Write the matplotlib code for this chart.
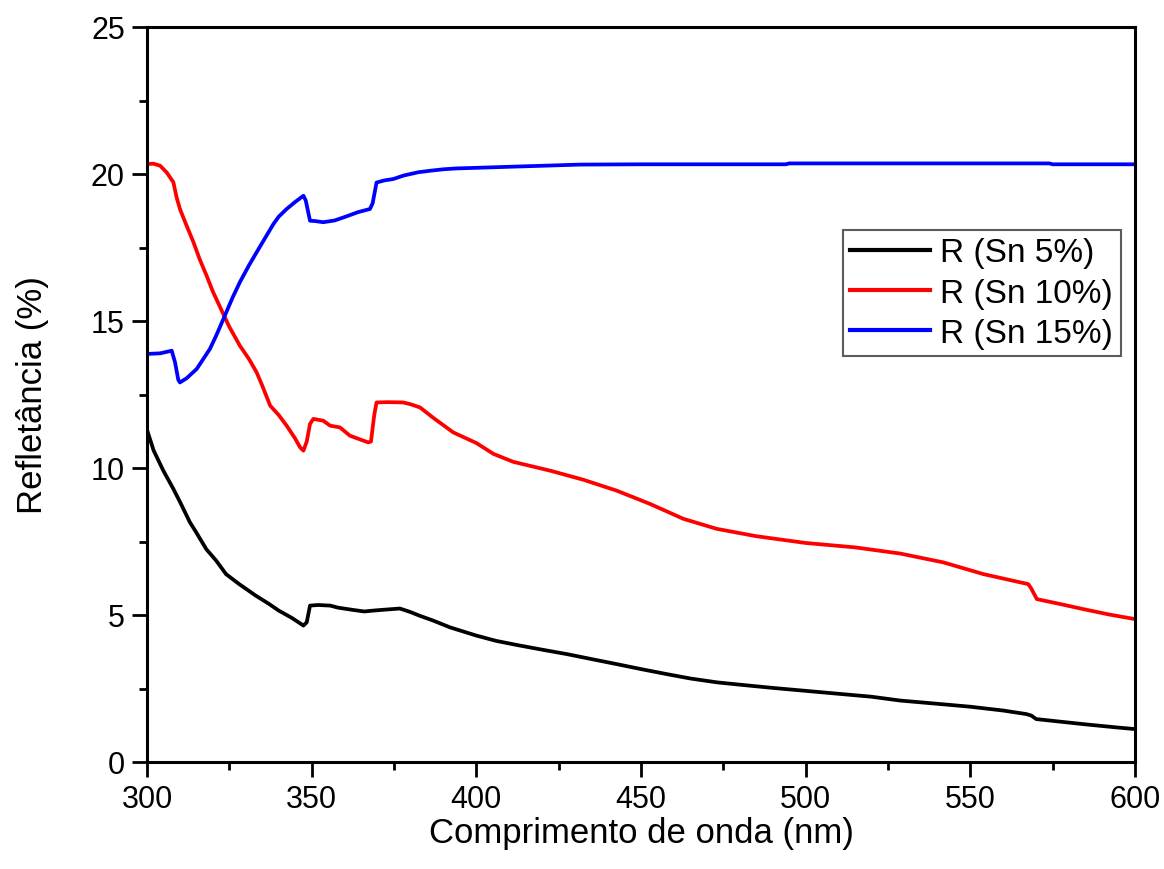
import matplotlib
matplotlib.use("Agg")
import matplotlib.pyplot as plt
from matplotlib.ticker import MultipleLocator

plt.rcParams['font.family'] = ['Liberation Sans', 'DejaVu Sans']

# Sn 5%
x_sn5 = [300, 302, 305, 308, 310, 313, 315, 318, 321, 324, 328, 333, 337, 340, 344, 347.5,
         348.5, 349.5, 352, 355.6, 358, 362.7, 366, 368.7, 372, 376.8, 380, 382.9, 386.9, 392,
         400, 406, 412.3, 420, 427.5, 435, 442.6, 450, 457.8, 465, 473, 480, 490, 500, 510,
         520, 528.7, 540, 550, 560, 567, 568.5, 570, 575, 585, 595, 600]
y_sn5 = [11.3, 10.6, 9.9, 9.29, 8.85, 8.16, 7.8, 7.24, 6.85, 6.39, 6.05, 5.66, 5.38, 5.15, 4.9, 4.64,
         4.75, 5.32, 5.34, 5.32, 5.25, 5.17, 5.12, 5.15, 5.18, 5.22, 5.1, 4.97, 4.81, 4.58,
         4.3, 4.12, 3.98, 3.82, 3.67, 3.5, 3.33, 3.16, 2.99, 2.84, 2.71, 2.63, 2.52, 2.42, 2.32,
         2.22, 2.09, 1.98, 1.88, 1.75, 1.63, 1.58, 1.46, 1.40, 1.28, 1.17, 1.12]

# Sn 10%
x_sn10 = [300, 302, 304, 306, 308, 309, 310, 312, 314.1, 316, 318.1, 320, 322.7, 325, 328.2, 331,
          333.3, 335, 337.4, 340, 342.4, 345, 346.5, 347.5, 348.5, 349.5, 350.5, 353.5, 355.6,
          358.6, 361.6, 364, 367.2, 368, 369, 369.7, 373, 377.8, 380, 382.9, 387, 393, 400,
          405.2, 411.2, 422.4, 432.5, 442.6, 452.7, 462.9, 473, 485, 500, 515, 528.7, 541.8,
          554, 567.6, 568.5, 570.2, 577, 584.3, 592, 600]
y_sn10 = [20.34, 20.35, 20.28, 20.05, 19.72, 19.2, 18.81, 18.25, 17.68, 17.1, 16.54, 16.0, 15.35,
          14.8, 14.16, 13.7, 13.25, 12.8, 12.12, 11.8, 11.44, 11.0, 10.7, 10.59, 10.9, 11.5, 11.67,
          11.61, 11.44, 11.38, 11.1, 11.0, 10.87, 10.9, 11.8, 12.23, 12.24, 12.23, 12.17, 12.06,
          11.7, 11.21, 10.85, 10.48, 10.21, 9.91, 9.6, 9.23, 8.78, 8.27, 7.93, 7.68, 7.45, 7.3,
          7.09, 6.79, 6.39, 6.05, 5.9, 5.54, 5.38, 5.2, 5.02, 4.86]

# Sn 15%
x_sn15 = [300, 304, 307.5, 308.5, 309.5, 310, 312, 315.1, 319.1, 321, 323.2, 326, 328.2, 331,
          333.3, 336, 338.4, 340, 342.4, 345, 347.5, 348.2, 349.5, 351, 353.5, 357, 360.6, 364,
          367.7, 368.5, 369.7, 372, 374.8, 378, 382.4, 385.9, 390, 394, 400, 411.2, 420, 431.5,
          450, 494, 495, 574, 575, 600]
y_sn15 = [13.88, 13.9, 13.99, 13.6, 13.0, 12.91, 13.05, 13.37, 14.05, 14.5, 15.07, 15.8, 16.32,
          16.9, 17.34, 17.85, 18.3, 18.55, 18.81, 19.05, 19.26, 19.1, 18.41, 18.4, 18.36, 18.42,
          18.56, 18.7, 18.81, 19.0, 19.71, 19.78, 19.83, 19.95, 20.06, 20.11, 20.16, 20.19, 20.21,
          20.25, 20.28, 20.32, 20.33, 20.33, 20.36, 20.36, 20.33, 20.33]

labels = ["R (Sn 5%)", "R (Sn 10%)", "R (Sn 15%)"]
colors = ["#000000", "#ff0000", "#0000ff"]

fig = plt.figure(figsize=(11.64, 8.70), dpi=100)
ax = fig.add_axes([147/1164, 107/870, 988/1164, 735/870])

for xs, ys, lab, c in zip([x_sn5, x_sn10, x_sn15], [y_sn5, y_sn10, y_sn15], labels, colors):
    ax.plot(xs, ys, color=c, lw=2.7, label=lab, solid_joinstyle='round')

ax.set_xlim(300, 600)
ax.set_ylim(0, 25)
ax.xaxis.set_major_locator(MultipleLocator(50))
ax.xaxis.set_minor_locator(MultipleLocator(25))
ax.yaxis.set_major_locator(MultipleLocator(5))
ax.yaxis.set_minor_locator(MultipleLocator(2.5))
ax.tick_params(which='major', direction='out', length=11, width=2, labelsize=22, pad=5)
ax.tick_params(which='minor', direction='out', length=6, width=2)
for s in ax.spines.values():
    s.set_linewidth(2.2)

ax.set_xlabel("Comprimento de onda (nm)", fontsize=25, labelpad=1)
ax.set_ylabel("Refletância (%)", fontsize=25, labelpad=30)

leg = ax.legend(loc='upper left', bbox_to_anchor=(0.7045, 0.724), fontsize=24,
                frameon=True, fancybox=False, edgecolor='#333333', handlelength=2.4,
                handletextpad=0.3, labelspacing=0.28, borderpad=0.22, borderaxespad=0)
leg.get_frame().set_linewidth(1.5)
for h in leg.get_lines():
    h.set_linewidth(3)

fig.savefig("out.png", dpi=100)
